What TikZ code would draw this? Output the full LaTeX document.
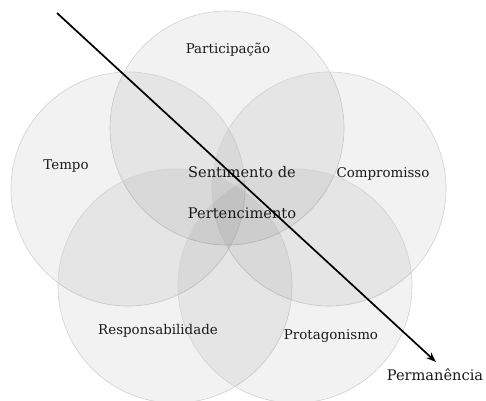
\documentclass[tikz,border=0pt]{standalone}
\usepackage{fontspec}
\setmainfont{DejaVu Serif}
\usetikzlibrary{arrows.meta}
\begin{document}
\begin{tikzpicture}[x=1pt,y=-1pt,
  ring/.style={draw=black!18, line width=0.6pt, fill=black, fill opacity=0.05},
  lbl/.style={text=black!90, font=\fontsize{13.4}{15}\selectfont, inner sep=0pt},
  biglbl/.style={text=black!90, font=\fontsize{14.6}{17}\selectfont, inner sep=0pt}]
\useasboundingbox (0,0) rectangle (486,400);
\fill[white] (0,0) rectangle (486,400);
\path[ring] (227,128) circle (117);
\path[ring] (128,189) circle (117);
\path[ring] (329,189) circle (117);
\path[ring] (175,286) circle (117);
\path[ring] (295,286) circle (117);
\node[lbl] (part) at (228,50) {Participação};
\node[lbl] (tempo) at (66,166) {Tempo};
\node[lbl] (comp) at (383,174) {Compromisso};
\node[biglbl] (sent) at (242,172) {Sentimento de};
\node[biglbl] (pert) at (242,213) {Pertencimento};
\node[lbl] (resp) at (158,331) {Responsabilidade};
\node[lbl] (prot) at (331,336) {Protagonismo};
\node[biglbl] (perm) at (435,375) {Permanência};
\coordinate (s) at (57,13);
\coordinate (e) at (436,362);
\draw[line width=1.7pt, -{Stealth[length=10pt,width=7.5pt]}] (s) -- (e);
\end{tikzpicture}
\end{document}
